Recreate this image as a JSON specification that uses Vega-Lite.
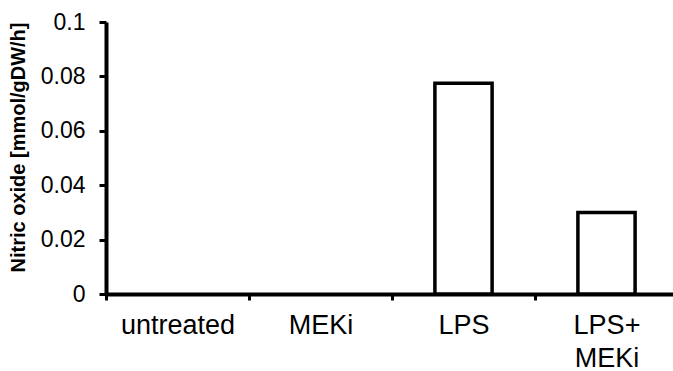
{
  "$schema": "https://vega.github.io/schema/vega-lite/v6.json",
  "width": 567,
  "height": 272,
  "autosize": {"type": "none"},
  "padding": {"left": 106, "top": 22, "right": 0, "bottom": 77},
  "background": "white",
  "config": {
    "view": {"stroke": null},
    "font": "Liberation Sans"
  },
  "data": {
    "values": [
      {"treatment": "untreated", "no": 0},
      {"treatment": "MEKi", "no": 0},
      {"treatment": "LPS", "no": 0.0775},
      {"treatment": "LPS+MEKi", "no": 0.030}
    ]
  },
  "mark": {
    "type": "bar",
    "fill": "white",
    "stroke": "black",
    "strokeWidth": 3.5,
    "strokeJoin": "miter",
    "width": {"band": 0.4}
  },
  "encoding": {
    "x": {
      "field": "treatment",
      "type": "nominal",
      "sort": null,
      "scale": {"paddingInner": 0, "paddingOuter": 0, "range": [0, 572]},
      "axis": {
        "title": null,
        "domainWidth": 4,
        "domainColor": "black",
        "tickColor": "black",
        "tickWidth": 3,
        "tickSize": 6,
        "tickBand": "extent",
        "labelFont": "Liberation Sans",
        "labelFontSize": 27,
        "labelColor": "black",
        "labelPadding": 12,
        "labelAngle": 0,
        "labelLineHeight": 33,
        "labelExpr": "datum.label == 'LPS+MEKi' ? ['LPS+', 'MEKi'] : datum.label"
      }
    },
    "y": {
      "field": "no",
      "type": "quantitative",
      "scale": {"domain": [0, 0.1], "nice": false},
      "axis": {
        "title": "Nitric oxide [mmol/gDW/h]",
        "titleFont": "Liberation Sans",
        "titleFontSize": 20,
        "titleFontWeight": "bold",
        "titleColor": "black",
        "titleAngle": -90,
        "titleX": -82,
        "titleY": 125,
        "titleBaseline": "alphabetic",
        "titleAlign": "center",
        "values": [0, 0.02, 0.04, 0.06, 0.08, 0.1],
        "format": "~g",
        "labelFont": "Liberation Sans",
        "labelFontSize": 23,
        "labelColor": "black",
        "labelPadding": 14,
        "tickSize": 7,
        "tickWidth": 3,
        "tickColor": "black",
        "domainWidth": 4,
        "domainColor": "black",
        "grid": false
      }
    },
    "strokeOpacity": {
      "condition": {"test": "datum.no > 0", "value": 1},
      "value": 0
    }
  }
}
